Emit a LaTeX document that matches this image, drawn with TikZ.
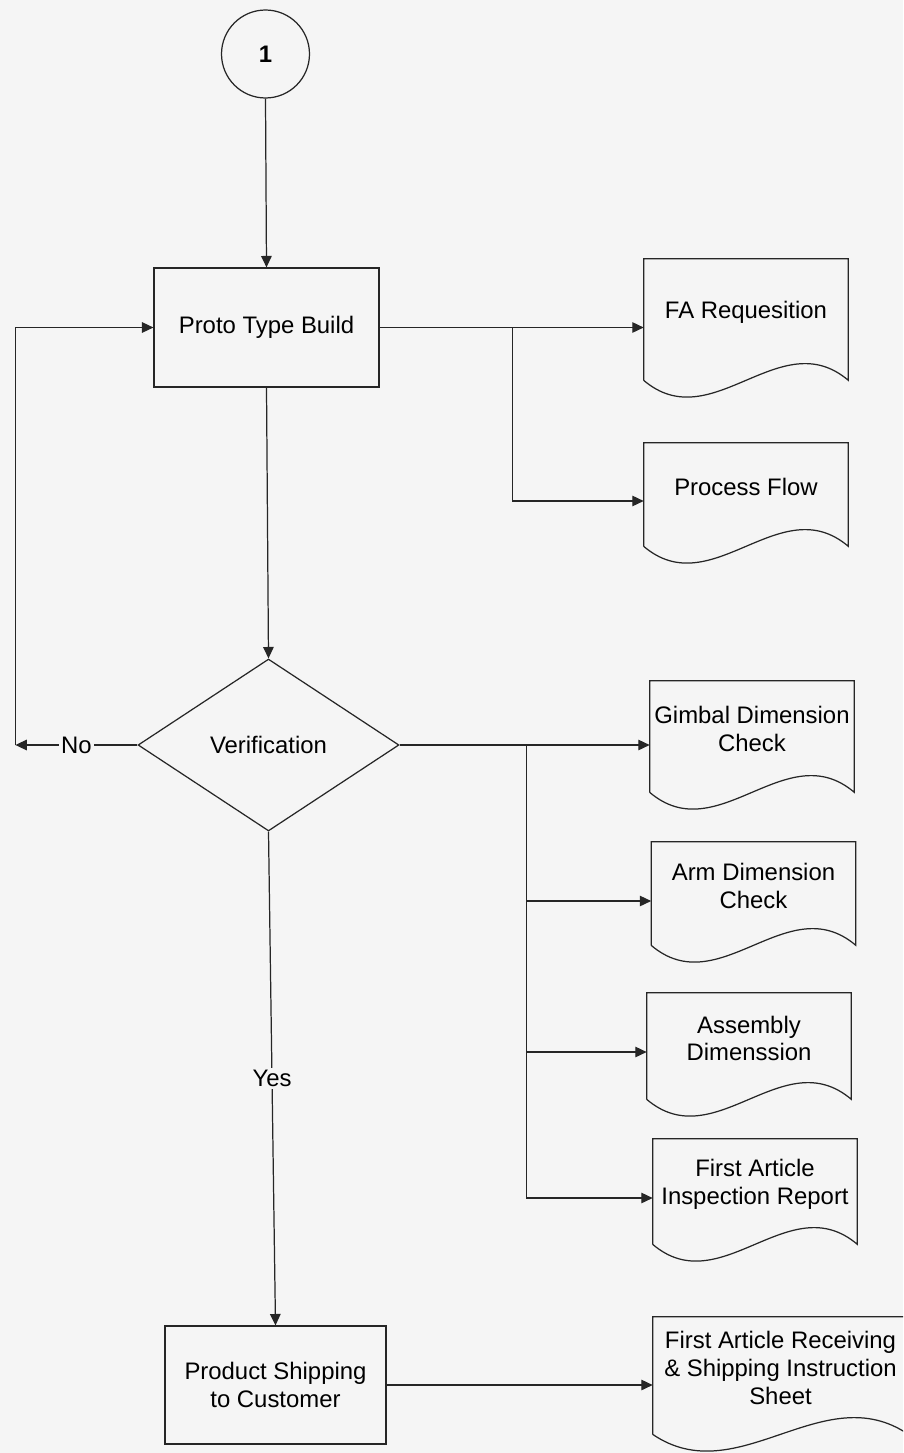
\documentclass[tikz,border=0pt]{standalone}
\usepackage{fontspec}
\setmainfont{Liberation Sans}
\usepackage{tikz}
\usetikzlibrary{arrows.meta,calc,shapes.geometric}
\definecolor{paper}{gray}{0.96}

\begin{document}
\begin{tikzpicture}[x=0.02cm,y=-0.02cm,
  every node/.style={font=\fontsize{13.6}{15.8}\selectfont},
  line/.style={draw=black!85,line width=0.7pt},
  arr/.style={line,-{Triangle[length=6.5pt,width=6pt]}},
  procbox/.style={line,rectangle,align=center,inner sep=0pt},
  docbox/.style={rectangle,align=center,inner sep=0pt,minimum width=4.08cm},
  lbl/.style={fill=paper,inner sep=1.5pt}]
\useasboundingbox (0,0) rectangle (903,1453);
\clip (0,0) rectangle (903,1453);
\fill[paper] (0,0) rectangle (903,1453);
\node[line,circle,minimum size=1.76cm,inner sep=0pt] (start) at (265.5,54) {\bfseries 1};
\node[procbox,minimum width=4.5cm,minimum height=2.38cm] (proto) at (266.5,327.5) {Proto Type Build};
\node[line,diamond,minimum width=5.22cm,minimum height=3.44cm,inner sep=0pt] (ver) at (268.5,745) {Verification};
\node[procbox,minimum width=4.42cm,minimum height=2.36cm] (prod) at (275.5,1385) {Product Shipping\\to Customer};
\node[docbox,minimum height=2.12cm] (fareq) at (746,312) {FA Requesition};
\node[docbox,minimum height=1.76cm] (pflow) at (746,487) {Process Flow};
\node[docbox,minimum height=1.92cm] (gimbal) at (752,729) {Gimbal Dimension\\Check};
\node[docbox,minimum height=1.76cm] (armdim) at (753.5,886) {Arm Dimension\\Check};
\node[docbox,minimum height=1.82cm] (assy) at (749,1038.5) {Assembly\\Dimenssion};
\node[docbox,minimum height=1.8cm] (fair) at (755,1184) {First Article\\Inspection Report};
\node[docbox,minimum width=5.1cm,minimum height=2.04cm] (frsis) at (780.5,1368) {First Article Receiving\\\& Shipping Instruction\\Sheet};
\foreach \dn in {fareq,pflow,gimbal,armdim,assy,fair,frsis}
  \draw[line] ($(\dn.south west)+(0,15)$) -- (\dn.north west) -- (\dn.north east) -- ($(\dn.south east)+(0,15)$)
    .. controls ($(\dn.south east)!1/3!(\dn.south west)+(0,-43)$) and ($(\dn.south east)!2/3!(\dn.south west)+(0,73)$) .. ($(\dn.south west)+(0,15)$);
\coordinate (pjoin) at ($(proto.east)+(133,0)$);
\coordinate (vjoin) at ($(ver.east)+(127,0)$);
\coordinate (noend) at ($(ver.west)+(-122,0)$);
\draw[arr] (start.south) -- (proto.north);
\draw[arr] (proto.south) -- (ver.north);
\draw[arr] (proto.east) -- (proto.east -| fareq.west);
\draw[arr] (pjoin) |- ($(pflow.west)+(0,14)$);
\draw[arr] (ver.east) -- (ver.east -| gimbal.west);
\draw[arr] (vjoin) |- ($(armdim.west)+(0,15)$);
\draw[arr] (vjoin) |- ($(assy.west)+(0,13.5)$);
\draw[arr] (vjoin) |- ($(fair.west)+(0,14)$);
\draw[arr] (ver.west) -- node[lbl]{No} (noend);
\draw[arr] (noend) |- (proto.west);
\draw[arr] (ver.south) -- node[lbl]{Yes} (prod.north);
\draw[arr] (prod.east) -- (prod.east -| frsis.west);
\end{tikzpicture}
\end{document}
